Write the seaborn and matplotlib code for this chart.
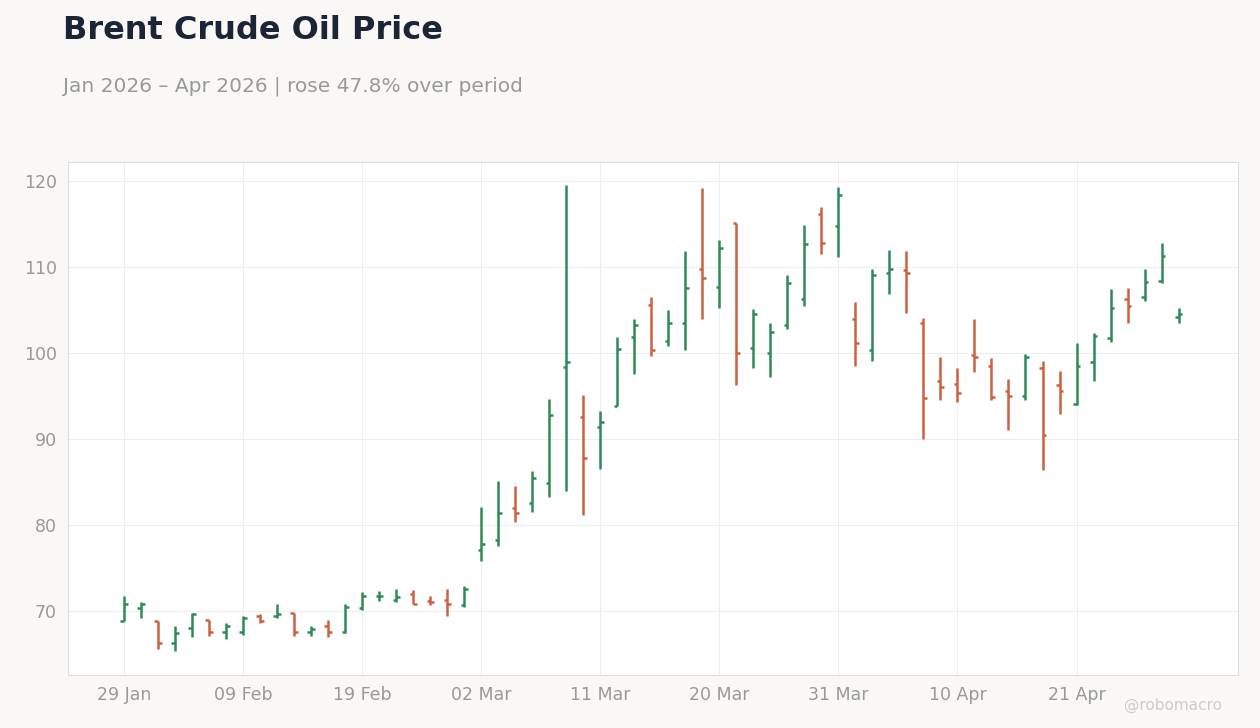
import numpy as np
import pandas as pd
import seaborn as sns
import matplotlib
matplotlib.use("Agg")
import matplotlib.pyplot as plt

# daily OHLC
opens = [68.8, 70.4, 68.8, 66.3, 68.0, 68.9, 67.6, 67.6, 69.4, 69.4, 69.8, 67.6, 68.2, 67.6,
         70.3, 71.8, 71.3, 72.0, 71.2, 71.3, 70.7, 77.1, 78.2, 82.0, 82.5, 84.9, 98.4, 92.5,
         91.4, 93.8, 101.8, 105.6, 101.4, 103.5, 109.8, 107.7, 115.1, 100.6, 100.0, 103.2,
         106.3, 116.2, 114.8, 104.0, 100.4, 109.3, 109.7, 103.5, 96.7, 96.4, 99.8, 98.5, 95.6,
         95.0, 98.3, 96.3, 94.1, 99.0, 101.7, 106.3, 106.5, 108.4, 104.2]
highs = [71.8, 71.0, 68.8, 68.3, 69.8, 68.9, 68.6, 69.4, 69.6, 70.8, 69.8, 68.2, 69.0, 70.8,
         72.2, 72.3, 72.5, 72.4, 71.7, 72.6, 72.9, 82.05, 85.1, 84.5, 86.3, 94.6, 119.5, 95.1,
         93.3, 101.8, 103.9, 106.5, 105.0, 111.9, 119.2, 113.1, 115.1, 105.1, 103.5, 109.1,
         114.9, 117.0, 119.3, 105.9, 109.8, 112.0, 111.9, 104.1, 99.5, 98.3, 104.0, 99.4, 97.0,
         99.9, 99.1, 97.9, 101.2, 102.3, 107.4, 107.5, 109.8, 112.8, 105.2]
lows = [68.8, 69.2, 65.6, 65.3, 67.0, 67.1, 66.8, 67.2, 68.6, 69.2, 67.1, 67.1, 67.0, 67.5,
        70.1, 71.2, 71.0, 70.8, 70.7, 69.4, 70.5, 75.8, 77.5, 80.4, 81.5, 83.3, 84.0, 81.2,
        86.5, 93.8, 97.6, 99.7, 100.8, 100.4, 103.9, 105.2, 96.3, 98.2, 97.2, 102.8,
        105.4, 111.5, 111.1, 98.5, 99.1, 106.9, 104.7, 90.0, 94.5, 94.3, 97.8, 94.5, 91.1,
        94.5, 86.4, 92.9, 94.0, 96.7, 101.3, 103.5, 106.0, 108.1, 103.5]
closes = [70.8, 70.8, 66.3, 67.5, 69.6, 67.6, 68.3, 69.2, 68.8, 69.6, 67.6, 67.9, 67.6, 70.5,
          71.8, 71.8, 71.6, 70.8, 71.0, 70.8, 72.6, 77.8, 81.4, 81.4, 85.5, 92.8, 99.0, 87.8,
          92.0, 100.5, 103.2, 100.3, 103.5, 107.5, 108.75, 112.2, 100.0, 104.5, 102.4, 108.1,
          112.7, 112.8, 118.4, 101.2, 109.1, 109.8, 109.3, 94.8, 96.0, 95.3, 99.5, 94.9, 95.0,
          99.5, 90.5, 95.6, 98.5, 102.0, 105.2, 105.4, 108.3, 111.3, 104.5]

dates = pd.bdate_range("2026-01-29", periods=len(opens), freq="C",
                       holidays=["2026-02-16", "2026-04-03"])
df = pd.DataFrame({"date": dates, "open": opens, "high": highs, "low": lows, "close": closes})
df["idx"] = np.arange(len(df))

GREEN = "#2e8b57"
RED = "#cd6040"
df["color"] = np.where(df["close"] >= df["open"], GREEN, RED)

sns.set_style("whitegrid", {"grid.color": "#eeeeee", "axes.edgecolor": "#dddddd"})
plt.rcParams["font.family"] = ["DejaVu Sans"]

fig = plt.figure(figsize=(12.6, 7.28), dpi=100, facecolor="#f9f8f6")
ax = fig.add_axes([0.054, 0.0728, 0.9286, 0.7047])
ax.set_facecolor("white")

tick = 0.22
ax.vlines(df["idx"], df["low"], df["high"], colors=df["color"], linewidth=1.8)
ax.hlines(df["open"], df["idx"] - tick, df["idx"], colors=df["color"], linewidth=1.8)
ax.hlines(df["close"], df["idx"], df["idx"] + tick, colors=df["color"], linewidth=1.8)

ax.set_xlim(-3.3, 65.5)
ax.set_ylim(62.56, 122.2)
ax.set_yticks([70, 80, 90, 100, 110, 120])
tick_pos = df["idx"][::7]
ax.set_xticks(tick_pos)
ax.set_xticklabels(df["date"][::7].dt.strftime("%d %b"))
ax.tick_params(colors="#999999", labelsize=12.5, length=0, pad=8)
for s in ax.spines.values():
    s.set_color("#dddddd")

fig.text(0.05, 0.958, "Brent Crude Oil Price", fontsize=23, fontweight="bold",
         color="#1c2536", va="center")
fig.text(0.05, 0.882, "Jan 2026 \u2013 Apr 2026 | rose 47.8% over period", fontsize=14.5,
         color="#999999", va="center")
fig.text(0.97, 0.031, "@robomacro", fontsize=11, color="#cccccc", ha="right", va="center")

fig.savefig("out.png", dpi=100, facecolor=fig.get_facecolor())
